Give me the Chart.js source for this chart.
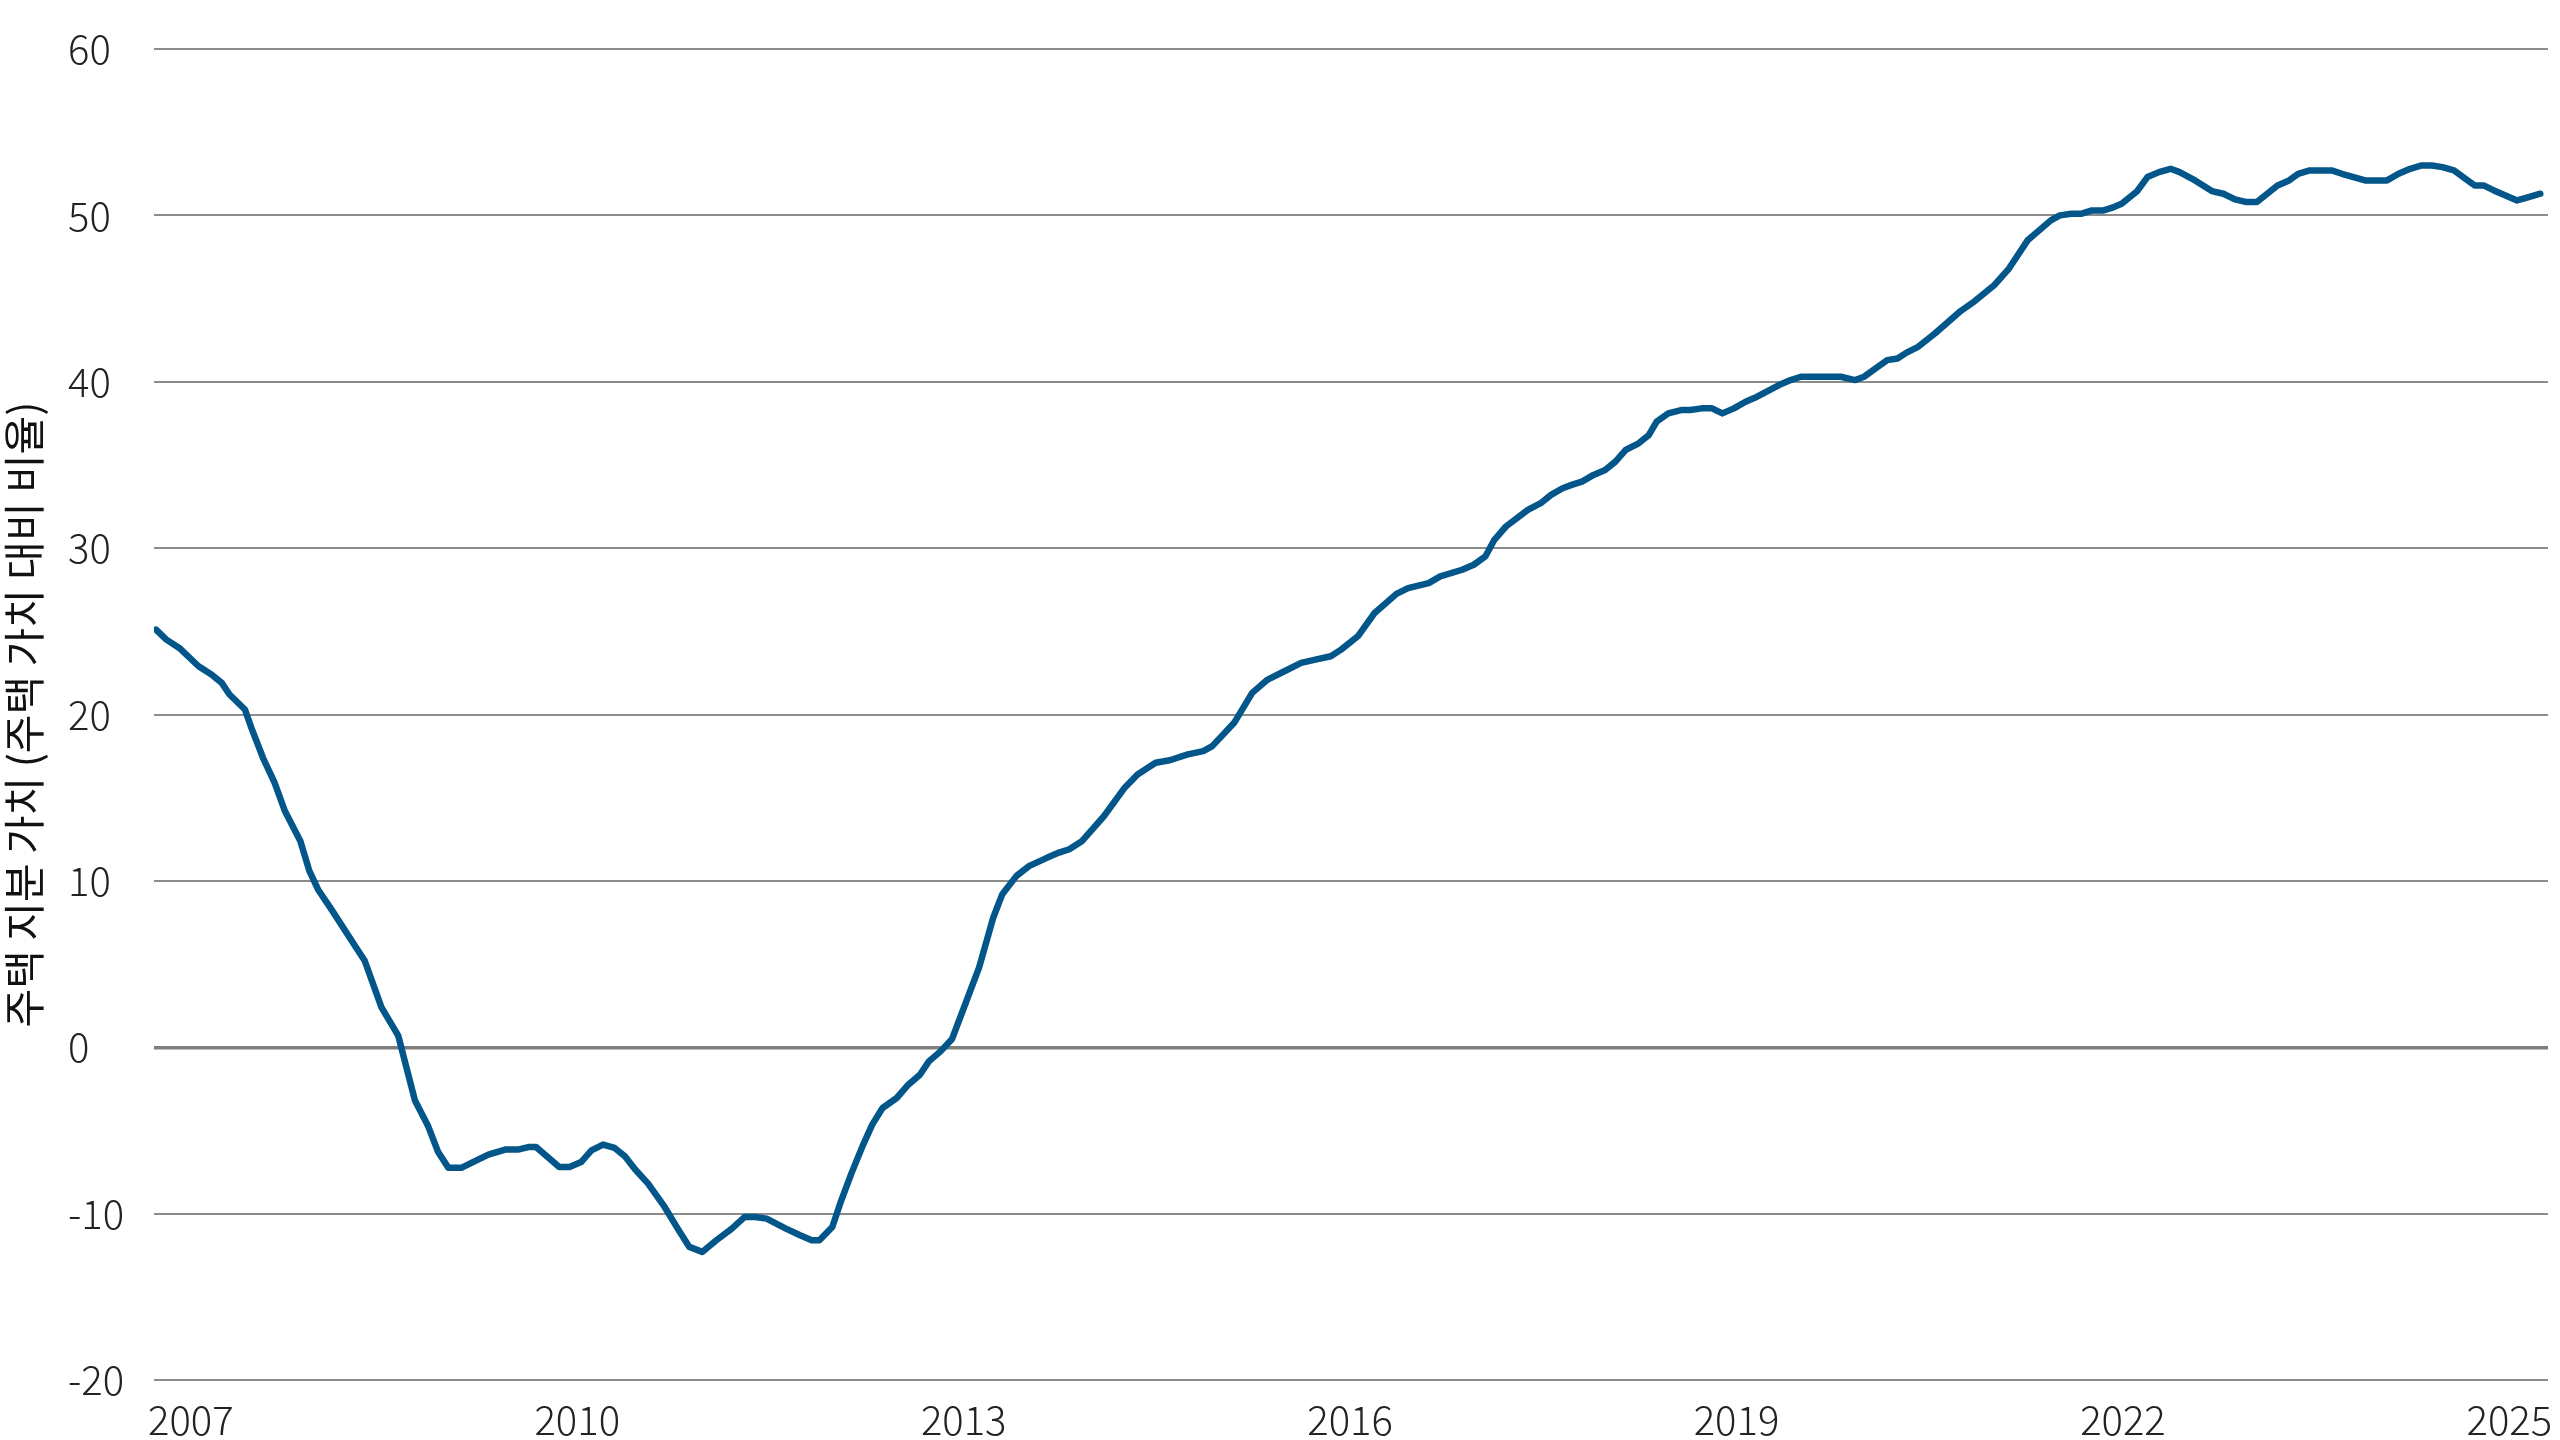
<!DOCTYPE html>
<html><head><meta charset="utf-8">
<script src="https://cdn.jsdelivr.net/npm/chart.js@4.4.1/dist/chart.umd.min.js"></script>
<style>html,body{margin:0;padding:0;background:#fff;}#wrap{width:2560px;height:1440px;}</style>
</head><body><div id="wrap"><canvas id="c" width="2560" height="1440"></canvas></div>
<script>
// Decimal-year positions of the readings
const years = [
 2006.73,2006.81,2006.91,2007.06,2007.16,2007.24,2007.30,2007.42,2007.47,2007.56,
 2007.65,2007.73,2007.85,2007.92,2007.99,2008.09,2008.24,2008.35,2008.48,2008.61,
 2008.74,2008.84,2008.92,2009.00,2009.10,2009.19,2009.31,2009.44,2009.54,2009.62,
 2009.68,2009.77,2009.86,2009.94,2010.03,2010.11,2010.20,2010.29,2010.37,2010.45,
 2010.55,2010.67,2010.78,2010.87,2010.97,2011.08,2011.20,2011.30,2011.38,2011.47,
 2011.62,2011.73,2011.82,2011.88,2011.98,2012.05,2012.13,2012.22,2012.29,2012.37,
 2012.48,2012.57,2012.66,2012.73,2012.82,2012.91,2013.02,2013.12,2013.23,2013.30,
 2013.41,2013.51,2013.65,2013.74,2013.82,2013.92,2014.09,2014.25,2014.35,2014.49,
 2014.60,2014.74,2014.86,2014.93,2015.10,2015.24,2015.36,2015.49,2015.62,2015.73,
 2015.85,2015.93,2016.06,2016.19,2016.36,2016.45,2016.61,2016.70,2016.87,2016.96,
 2017.05,2017.12,2017.21,2017.38,2017.48,2017.56,2017.65,2017.72,2017.80,2017.89,
 2017.98,2018.06,2018.14,2018.24,2018.32,2018.38,2018.47,2018.57,2018.64,2018.73,
 2018.81,2018.89,2018.98,2019.07,2019.16,2019.33,2019.42,2019.50,2019.62,2019.81,
 2019.92,2019.99,2020.08,2020.17,2020.25,2020.32,2020.41,2020.54,2020.74,2020.85,
 2021.00,2021.11,2021.26,2021.44,2021.51,2021.60,2021.68,2021.76,2021.85,2021.93,
 2021.99,2022.11,2022.19,2022.28,2022.37,2022.44,2022.56,2022.69,2022.78,2022.87,
 2022.96,2023.04,2023.20,2023.29,2023.36,2023.45,2023.62,2023.70,2023.79,2023.88,
 2024.05,2024.14,2024.23,2024.32,2024.40,2024.48,2024.57,2024.66,2024.73,2024.80,
 2024.88,2024.97,2025.06,2025.15,2025.24
];
// Home equity as % of home value
const equityShare = [
 25.1,24.5,24.0,22.9,22.4,21.9,21.2,20.3,19.2,17.4,
 15.9,14.2,12.4,10.6,9.45,8.3,6.5,5.2,2.4,0.7,
 -3.2,-4.7,-6.3,-7.25,-7.25,-6.9,-6.45,-6.15,-6.15,-6.0,
 -6.0,-6.6,-7.2,-7.2,-6.9,-6.2,-5.85,-6.05,-6.55,-7.35,
 -8.2,-9.5,-10.9,-12.0,-12.3,-11.6,-10.9,-10.2,-10.2,-10.3,
 -10.9,-11.3,-11.6,-11.6,-10.8,-9.2,-7.55,-5.85,-4.65,-3.65,
 -3.05,-2.25,-1.65,-0.85,-0.25,0.5,2.75,4.8,7.8,9.2,
 10.3,10.9,11.4,11.7,11.9,12.4,13.9,15.6,16.4,17.1,
 17.25,17.6,17.8,18.1,19.5,21.3,22.1,22.6,23.1,23.3,
 23.5,23.9,24.7,26.1,27.25,27.6,27.9,28.3,28.7,29.0,
 29.5,30.5,31.3,32.3,32.7,33.2,33.6,33.8,34.0,34.4,
 34.7,35.2,35.9,36.3,36.8,37.6,38.1,38.3,38.3,38.4,
 38.4,38.1,38.4,38.8,39.1,39.8,40.1,40.3,40.3,40.3,
 40.1,40.3,40.8,41.3,41.4,41.75,42.1,42.9,44.25,44.85,
 45.8,46.75,48.5,49.7,50.0,50.1,50.1,50.3,50.3,50.5,
 50.7,51.45,52.3,52.6,52.8,52.6,52.1,51.46,51.3,50.96,
 50.8,50.8,51.8,52.1,52.5,52.7,52.7,52.5,52.3,52.1,
 52.1,52.5,52.8,53.0,53.0,52.9,52.7,52.2,51.8,51.8,
 51.5,51.2,50.9,51.1,51.3
];
const xTickYears = [2007, 2010, 2013, 2016, 2019, 2022, 2025];
const xTickLabels = ['2007', '2010', '2013', '2016', '2019', '2022', '2025'];
const yTickValues = [-20, -10, 0, 10, 20, 30, 40, 50, 60];
const yTickLabels = ['-20', '-10', '0', '10', '20', '30', '40', '50', '60'];
const yAxisTitle = '주택 지분 가치 (주택 가치 대비 비율)';

const FONT = '"Noto Sans CJK KR", "Noto Sans", sans-serif';
const tickFont = {family: FONT, size: 40, weight: 300};

new Chart(document.getElementById('c'), {
  type: 'line',
  data: {
    datasets: [{
      data: years.map((x, i) => ({x: x, y: equityShare[i]})),
      borderColor: '#03568a',
      borderWidth: 6.5,
      pointRadius: 0,
      tension: 0,
      fill: false,
      borderJoinStyle: 'round',
      borderCapStyle: 'round'
    }]
  },
  options: {
    responsive: false,
    animation: false,
    devicePixelRatio: 1,
    layout: {padding: {top: 49, right: 12, bottom: 0, left: 68}},
    plugins: {legend: {display: false}, tooltip: {enabled: false}},
    scales: {
      x: {
        type: 'linear',
        min: 2006.714,
        max: 2025.30,
        grid: {display: false, drawTicks: false},
        border: {display: false},
        afterBuildTicks: s => { s.ticks = xTickYears.map(v => ({value: v})); },
        ticks: {
          autoSkip: false, maxRotation: 0, minRotation: 0, padding: 16,
          color: '#222', font: tickFont,
          callback: (v, i) => xTickLabels[i]
        },
        afterFit: s => { s.height = 60; s.paddingLeft = 0; s.paddingRight = 0; }
      },
      y: {
        min: -20,
        max: 60,
        afterBuildTicks: s => { s.ticks = yTickValues.map(v => ({value: v})); },
        grid: {
          drawTicks: false,
          color: c => (c.tick && c.tick.value === 0) ? '#7f7f7f' : '#8c8c8c',
          lineWidth: c => (c.tick && c.tick.value === 0) ? 3.5 : 2
        },
        border: {display: false},
        ticks: {
          padding: 0, crossAlign: 'far', color: '#222', font: tickFont,
          callback: (v, i) => yTickLabels[i]
        },
        title: {
          display: true, text: yAxisTitle, color: '#111',
          font: {family: FONT, size: 42, weight: 400},
          padding: {top: -69, bottom: 0}
        },
        afterFit: s => { s.width = 86; s.paddingTop = 0; s.paddingBottom = 0; }
      }
    }
  }
});
</script>
</body></html>
